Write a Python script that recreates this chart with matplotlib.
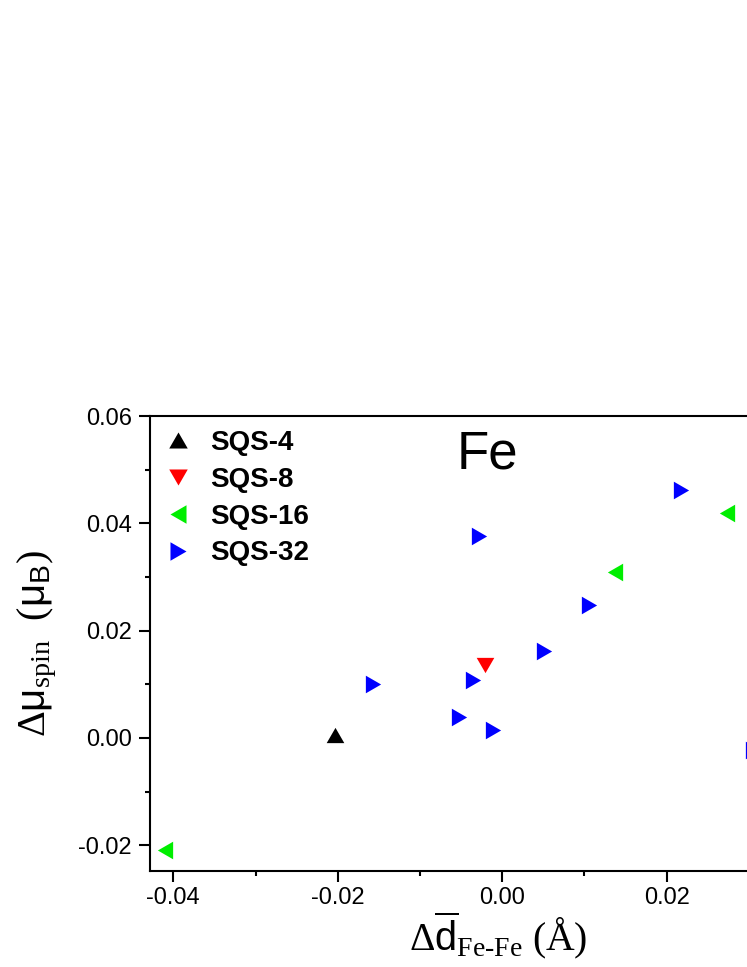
import matplotlib
matplotlib.use("Agg")
import matplotlib.pyplot as plt
from matplotlib.ticker import MultipleLocator, FormatStrFormatter

plt.rcParams['font.family'] = ['Liberation Sans', 'DejaVu Sans']
plt.rcParams['mathtext.fontset'] = 'custom'
plt.rcParams['mathtext.rm'] = 'Liberation Serif'
plt.rcParams['mathtext.it'] = 'Liberation Serif:italic'
plt.rcParams['mathtext.sf'] = 'Liberation Sans'
plt.rcParams['mathtext.bf'] = 'Liberation Serif:bold'

# ---- data ----
series_names = ["SQS-4", "SQS-8", "SQS-16", "SQS-32"]
series_colors = ["#000000", "#ff0000", "#00ee00", "#0000ff"]

sqs4_x = [-0.0203]
sqs4_y = [0.0005]

sqs8_x = [-0.00215]
sqs8_y = [0.01364]

sqs16_x = [-0.04096, 0.01371, 0.02729]
sqs16_y = [-0.02084, 0.03098, 0.04194]

sqs32_x = [-0.01574, -0.00278, 0.02170, 0.01059, 0.00512, -0.00357, -0.00528, -0.00108, 0.03055]
sqs32_y = [0.01003, 0.03761, 0.04623, 0.02475, 0.01622, 0.01081, 0.00397, 0.00155, -0.00224]

xticks = [-0.04, -0.02, 0.00, 0.02]
xminor = [-0.03, -0.01, 0.01]
yticks = [-0.02, 0.00, 0.02, 0.04, 0.06]

# ---- markers (equilateral triangles) ----
h = 0.866
tri_up = [(0, h), (-1, -h), (1, -h)]
tri_down = [(0, -h), (-1, h), (1, h)]
tri_left = [(-h, 0), (h, 1), (h, -1)]
tri_right = [(h, 0), (-h, 1), (-h, -1)]
markers = [tri_up, tri_down, tri_left, tri_right]

fig = plt.figure(figsize=(7.47, 9.67), dpi=100)
ax = fig.add_axes([0.2008, 0.0996, 0.9317, 0.4702])

all_x = [sqs4_x, sqs8_x, sqs16_x, sqs32_x]
all_y = [sqs4_y, sqs8_y, sqs16_y, sqs32_y]
for xs, ys, name, col, mk in zip(all_x, all_y, series_names, series_colors, markers):
    ax.plot(xs, ys, linestyle='none', marker=mk, markersize=12.7,
            color=col, markeredgewidth=0, label=name)

ax.set_xlim(-0.04283, 0.0418)
ax.set_ylim(-0.02473, 0.06)
ax.set_xticks(xticks)
ax.set_xticks(xminor, minor=True)
ax.set_yticks(yticks)
ax.yaxis.set_minor_locator(MultipleLocator(0.01))
ax.xaxis.set_major_formatter(FormatStrFormatter('%.2f'))
ax.yaxis.set_major_formatter(FormatStrFormatter('%.2f'))

for s in ax.spines.values():
    s.set_linewidth(1.5)
ax.tick_params(which='major', direction='out', length=7.9, width=1.5,
               labelsize=17, pad=4)
ax.tick_params(which='minor', direction='out', length=3.8, width=1.5)
ax.tick_params(axis='y', which='major', pad=5)

ax.set_xlabel(r'$\Delta\overline{\mathsf{d}}_{\text{Fe-Fe}}\ (\mathrm{Å})$',
              fontsize=28.5, labelpad=0)
ax.set_ylabel(r'$\Delta\mathsf{\mu}_{\mathrm{spin}}\ \ (\mathsf{\mu}_{\mathsf{B}})$',
              fontsize=29, labelpad=14)

ax.text(-0.00556, 0.05027, 'Fe', fontsize=38, ha='left', va='baseline')

leg = ax.legend(loc='upper left', frameon=False,
                prop={'family': 'Liberation Sans', 'weight': 'bold', 'size': 20},
                handlelength=1.0, handletextpad=0.65, labelspacing=0.39,
                borderaxespad=0.2, borderpad=0.3, markerscale=1.05)

fig.savefig('out.png', dpi=100)
